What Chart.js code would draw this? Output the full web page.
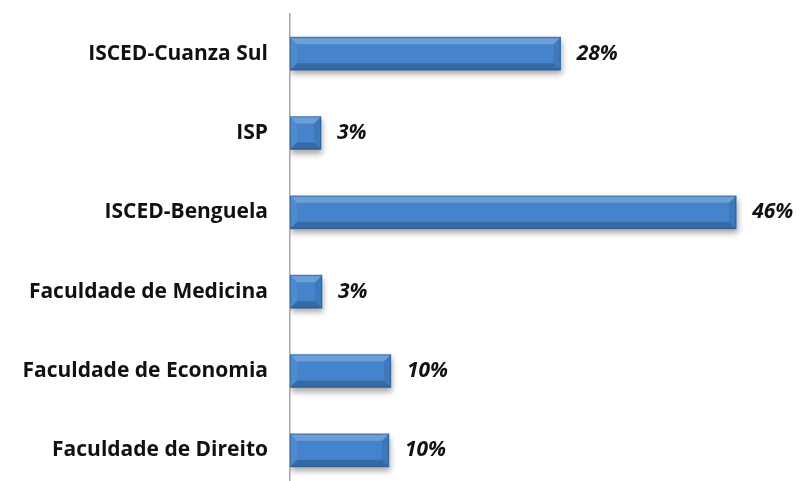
<!DOCTYPE html>
<html>
<head>
<meta charset="utf-8">
<script src="https://cdn.jsdelivr.net/npm/chart.js@4.4.1/dist/chart.umd.min.js"></script>
<style>
  html,body{margin:0;padding:0;background:#fff;overflow:hidden}
  #wrap{width:802px;height:481px;overflow:hidden}
  #box{position:relative;width:802px;height:492px}
</style>
</head>
<body>
<div id="wrap"><div id="box"><canvas id="c"></canvas></div></div>
<script>
// categories, top to bottom
const institutions = ['ISCED-Cuanza Sul','ISP','ISCED-Benguela','Faculdade de Medicina','Faculdade de Economia','Faculdade de Direito'];
// share of respondents, %
const shares = [27.9, 3.2, 46.0, 3.3, 10.4, 10.2];

const FONT = '"Open Sans", "DejaVu Sans", sans-serif';

// soft drop shadow under the bars
const shadowPlugin = {
  id:'shadow',
  beforeDatasetsDraw(chart){
    const ctx = chart.ctx;
    ctx.save();
    ctx.shadowColor = 'rgba(0,0,0,0.35)';
    ctx.shadowBlur = 6;
    ctx.shadowOffsetX = 1;
    ctx.shadowOffsetY = 4;
  },
  afterDatasetsDraw(chart){ chart.ctx.restore(); }
};

// bevel edges + value labels
const bevelPlugin = {
  id:'bevel',
  afterDatasetsDraw(chart){
    const ctx = chart.ctx;
    const meta = chart.getDatasetMeta(0);
    meta.data.forEach((el,i)=>{
      const p = el.getProps(['x','y','base','height'], true);
      const L = p.base, R = p.x, T = p.y - p.height/2, B = p.y + p.height/2;
      const b = Math.min(7, (R-L)/2);
      const poly = (pts, fill) => {
        ctx.beginPath();
        ctx.moveTo(pts[0][0], pts[0][1]);
        pts.slice(1).forEach(q=>ctx.lineTo(q[0], q[1]));
        ctx.closePath();
        ctx.fillStyle = fill; ctx.fill();
      };
      ctx.save();
      poly([[L,T],[R,T],[R-b,T+b],[L+b,T+b]], 'rgba(255,255,255,0.22)');
      poly([[L,B],[R,B],[R-b,B-b],[L+b,B-b]], 'rgba(0,0,0,0.20)');
      poly([[R,T],[R,B],[R-b,B-b],[R-b,T+b]], 'rgba(0,0,0,0.08)');
      poly([[L,T],[L,B],[L+b,B-b],[L+b,T+b]], 'rgba(255,255,255,0.06)');
      ctx.strokeStyle = 'rgba(30,70,120,0.45)';
      ctx.lineWidth = 1;
      ctx.strokeRect(L+0.5, T+0.5, R-L-1, B-T-1);
      ctx.restore();

      ctx.save();
      ctx.font = 'italic bold 21px ' + FONT;
      ctx.fillStyle = '#111';
      ctx.textAlign = 'left';
      ctx.textBaseline = 'middle';
      ctx.fillText(Math.round(shares[i]) + '%', R + 16, p.y);
      ctx.restore();
    });
  }
};

new Chart(document.getElementById('c'), {
  type:'bar',
  data:{
    labels: institutions,
    datasets:[{
      data: shares,
      barThickness: 33,
      borderWidth: 0,
      backgroundColor(ctx){
        const el = ctx.element;
        if (!el || el.y == null) return '#4584cc';
        const top = el.y - el.height/2, bot = el.y + el.height/2;
        const g = ctx.chart.ctx.createLinearGradient(0, top, 0, bot);
        g.addColorStop(0, '#8cc3f3');
        g.addColorStop(0.2, '#64a5e5');
        g.addColorStop(0.5, '#4888d2');
        g.addColorStop(0.85, '#3b76bd');
        g.addColorStop(1, '#2c5d98');
        return g;
      }
    }]
  },
  options:{
    indexAxis:'y',
    responsive:true,
    maintainAspectRatio:false,
    animation:false,
    layout:{ padding:{ left:0, right:27, top:14, bottom:2 } },
    plugins:{ legend:{display:false}, tooltip:{enabled:false} },
    scales:{
      x:{ display:false, min:0, max:50 },
      y:{
        afterFit(scale){
          scale.width = 290;
          scale.paddingTop = 0;
          scale.paddingBottom = 0;
        },
        grid:{ display:false, drawTicks:false },
        border:{ display:true, color:'#a6a6a6', width:1.5 },
        ticks:{ color:'#111', padding:22, font:{ family:FONT, size:21, weight:'bold' } }
      }
    }
  },
  plugins:[shadowPlugin, bevelPlugin]
});
</script>
</body>
</html>
